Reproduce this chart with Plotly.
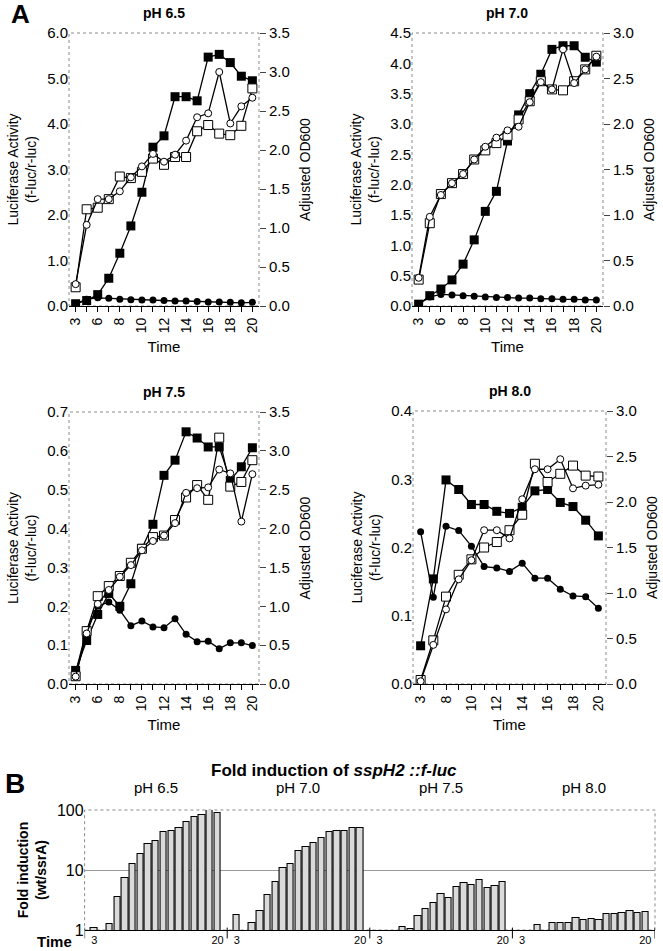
import plotly.graph_objects as go

W, H = 663, 951
FONT = "Liberation Sans, Arial, sans-serif"

# sampling times (h)
times = [3, 5, 6, 7, 8, 9, 10, 11, 12, 13, 14, 15, 16, 17, 18, 19, 20]
times_80 = [3, 6, 8, 9, 10, 11, 12, 13, 14, 15, 16, 17, 18, 19, 20]

# luciferase activity (left axis): filled squares = wt, filled circles = ssrA
luc_wt_65 = [0.05, 0.12, 0.25, 0.61, 1.16, 1.76, 2.50, 3.49, 3.74, 4.60, 4.60, 4.51, 5.47, 5.53, 5.35, 5.05, 4.95]
luc_ss_65 = [0.05, 0.15, 0.18, 0.17, 0.15, 0.14, 0.13, 0.13, 0.12, 0.11, 0.11, 0.10, 0.09, 0.09, 0.08, 0.07, 0.08]
luc_wt_70 = [0.03, 0.17, 0.28, 0.43, 0.69, 1.09, 1.56, 1.89, 2.72, 3.15, 3.50, 3.82, 4.23, 4.29, 4.29, 4.10, 4.02]
luc_ss_70 = [0.03, 0.15, 0.19, 0.18, 0.17, 0.16, 0.15, 0.14, 0.14, 0.13, 0.13, 0.12, 0.12, 0.11, 0.11, 0.10, 0.10]
luc_wt_75 = [0.035, 0.112, 0.179, 0.233, 0.200, 0.258, 0.349, 0.411, 0.537, 0.576, 0.649, 0.633, 0.610, 0.610, 0.524, 0.559, 0.608]
luc_ss_75 = [0.03, 0.14, 0.20, 0.211, 0.19, 0.15, 0.162, 0.147, 0.145, 0.168, 0.128, 0.109, 0.11, 0.091, 0.106, 0.106, 0.099]
luc_wt_80 = [0.056, 0.154, 0.299, 0.285, 0.263, 0.263, 0.253, 0.250, 0.259, 0.283, 0.285, 0.266, 0.260, 0.240, 0.217]
luc_ss_80 = [0.223, 0.127, 0.231, 0.225, 0.202, 0.172, 0.170, 0.165, 0.177, 0.155, 0.155, 0.139, 0.129, 0.128, 0.111]

# adjusted OD600 (right axis): open squares = wt, open circles = ssrA
od_wt_65 = [0.24, 1.24, 1.26, 1.37, 1.66, 1.64, 1.72, 1.89, 1.81, 1.91, 1.91, 2.24, 2.32, 2.21, 2.19, 2.31, 2.79]
od_ss_65 = [0.28, 1.04, 1.37, 1.37, 1.47, 1.65, 1.79, 1.95, 1.85, 1.94, 2.12, 2.42, 2.47, 3.00, 2.34, 2.56, 2.67]
od_wt_70 = [0.29, 0.91, 1.23, 1.35, 1.45, 1.61, 1.71, 1.79, 1.87, 2.05, 2.25, 2.47, 2.38, 2.37, 2.47, 2.60, 2.75]
od_ss_70 = [0.31, 0.98, 1.22, 1.35, 1.45, 1.61, 1.75, 1.85, 1.93, 1.97, 2.24, 2.46, 2.38, 2.82, 2.45, 2.60, 2.74]
od_wt_75 = [0.10, 0.68, 1.13, 1.26, 1.39, 1.56, 1.74, 1.89, 1.91, 2.11, 2.40, 2.56, 2.37, 3.17, 2.54, 2.60, 2.88]
od_ss_75 = [0.095, 0.65, 1.03, 1.21, 1.38, 1.53, 1.72, 1.84, 1.91, 2.07, 2.46, 2.52, 2.53, 2.76, 2.71, 2.09, 2.70]
od_wt_80 = [0.044, 0.48, 0.96, 1.20, 1.37, 1.50, 1.56, 1.69, 1.86, 2.42, 2.22, 2.31, 2.40, 2.29, 2.28]
od_ss_80 = [0.03, 0.43, 0.82, 1.15, 1.36, 1.69, 1.69, 1.60, 2.03, 2.36, 2.36, 2.47, 2.15, 2.18, 2.19]

# fold induction (wt/ssrA), one value per time point, None = not above 1
ph_labels = ["pH 6.5", "pH 7.0", "pH 7.5", "pH 8.0"]
fold_65 = [1.08, None, 1.24, 3.5, 7.5, 12.4, 18.7, 26.8, 30.4, 42.4, 45.3, 50.8, 63.9, 75.5, 81.5, 98.7, 89.2]
fold_70 = [1.77, None, 1.31, 2.10, 3.87, 6.43, 10.7, 12.8, 20.5, 23.9, 28.3, 34.4, 43.5, 45.2, 44.6, 50.8, 50.1]
fold_75 = [None, None, None, 1.12, 1.04, 1.73, 2.21, 2.87, 3.97, 3.48, 5.22, 6.1, 5.71, 6.86, 5.08, 5.36, 6.43]
fold_80 = [None, None, 1.22, None, 1.31, 1.30, 1.30, 1.56, 1.48, 1.52, 1.48, 1.84, 1.87, 1.94, 2.10, 1.92, 2.00]


def px(x):
    return x / W


def py(y):
    return 1 - y / H


fig = go.Figure()
layout = {}
shapes = []
annotations = []

panels = [
    dict(title="pH 6.5", t=times, lw=luc_wt_65, ls=luc_ss_65, ow=od_wt_65, os=od_ss_65,
         lmax=6.0, ldt=1.0, rmax=3.5, box=(69, 259, 33, 306)),
    dict(title="pH 7.0", t=times, lw=luc_wt_70, ls=luc_ss_70, ow=od_wt_70, os=od_ss_70,
         lmax=4.5, ldt=0.5, rmax=3.0, box=(412, 603, 33, 306)),
    dict(title="pH 7.5", t=times, lw=luc_wt_75, ls=luc_ss_75, ow=od_wt_75, os=od_ss_75,
         lmax=0.7, ldt=0.1, rmax=3.5, box=(69, 259, 412, 684)),
    dict(title="pH 8.0", t=times_80, lw=luc_wt_80, ls=luc_ss_80, ow=od_wt_80, os=od_ss_80,
         lmax=0.4, ldt=0.1, rmax=3.0, box=(413, 606, 411, 684)),
]

line = dict(color="black", width=1.3)
for k, p in enumerate(panels, start=1):
    xa = "x" if k == 1 else f"x{k}"
    yl = "y" if k == 1 else f"y{2 * k - 1}"
    yr = f"y{2 * k}"
    cats = [str(v) for v in p["t"]]
    fig.add_trace(go.Scatter(x=cats, y=p["lw"], xaxis=xa, yaxis=yl, mode="lines+markers", line=line,
                             marker=dict(symbol="square", size=9, color="black")))
    fig.add_trace(go.Scatter(x=cats, y=p["ls"], xaxis=xa, yaxis=yl, mode="lines+markers", line=line,
                             marker=dict(symbol="circle", size=7, color="black")))
    fig.add_trace(go.Scatter(x=cats, y=p["ow"], xaxis=xa, yaxis=yr, mode="lines+markers", line=line,
                             marker=dict(symbol="square", size=9, color="white", line=dict(color="black", width=1))))
    fig.add_trace(go.Scatter(x=cats, y=p["os"], xaxis=xa, yaxis=yr, mode="lines+markers", line=line,
                             marker=dict(symbol="circle", size=7, color="white", line=dict(color="black", width=1))))

    x0, x1, y0, y1 = p["box"]
    n = len(cats)
    layout["xaxis" if k == 1 else f"xaxis{k}"] = dict(
        domain=[px(x0), px(x1)], anchor=yl, type="category", range=[-0.6, n - 0.4], automargin=False,
        tickmode="array", tickvals=cats, ticktext=[c if i % 2 == 0 else "" for i, c in enumerate(cats)],
        tickangle=-90, ticks="outside", ticklen=5, tickcolor="black",
        showline=True, linecolor="black", linewidth=1, showgrid=False,
        tickfont=dict(size=14), title=dict(text="Time", font=dict(size=15), standoff=9))
    layout["yaxis" if k == 1 else f"yaxis{2 * k - 1}"] = dict(
        domain=[py(y1), py(y0)], anchor=xa, range=[0, p["lmax"]], dtick=p["ldt"], tickformat=".1f",
        automargin=False, showgrid=False, zeroline=False, showline=False, ticks="", tickfont=dict(size=15),
        title=dict(text="Luciferase Activity<br>(f-luc/r-luc)", font=dict(size=14), standoff=7))
    layout[f"yaxis{2 * k}"] = dict(
        overlaying=yl, side="right", anchor=xa, range=[0, p["rmax"]], dtick=0.5, tickformat=".1f",
        automargin=False, showgrid=False, zeroline=False, showline=False, ticks="outside", ticklen=6,
        tickcolor="#444", tickfont=dict(size=15),
        title=dict(text="Adjusted OD600", font=dict(size=14), standoff=11))
    shapes.append(dict(type="rect", xref=f"{xa} domain", yref=f"{yl} domain", x0=0, x1=1, y0=0, y1=1,
                       line=dict(color="#8a8a8a", width=1, dash="dot"), layer="below"))
    annotations.append(dict(text=f"<b>{p['title']}</b>", x=px((x0 + x1) / 2), y=py(y0 - 20),
                            font=dict(size=14)))

# bar chart (panel B): groups of 17 time slots
slots = len(times)
group_w = 18.5
offset = 1.25
for g, vals in enumerate([fold_65, fold_70, fold_75, fold_80]):
    xs = [g * group_w + offset + i for i in range(slots)]
    fig.add_trace(go.Bar(x=xs, y=vals, xaxis="x5", yaxis="y9", width=0.82, name=ph_labels[g],
                         marker=dict(color="#dadada", line=dict(color="black", width=1.1))))

tick_x, tick_t = [], []
for g in range(4):
    tick_x += [g * group_w + offset, g * group_w + offset + slots - 1]
    tick_t += [str(times[0]), str(times[-1])]

layout["xaxis5"] = dict(domain=[px(84.6), px(655)], anchor="y9", range=[0, 4 * group_w], automargin=False,
                        tickmode="array", tickvals=tick_x, ticktext=tick_t, ticks="",
                        tickfont=dict(size=11), showline=True, linecolor="black", showgrid=False,
                        zeroline=False)
layout["yaxis9"] = dict(domain=[py(930), py(810)], anchor="x5", type="log", range=[0, 2], automargin=False,
                        tickmode="array", tickvals=[1, 10, 100], ticktext=["1", "10", "100"],
                        showgrid=True, gridcolor="#999", gridwidth=1, zeroline=False, showline=False,
                        ticks="", tickfont=dict(size=16),
                        title=dict(text="<b>Fold induction<br>(wt/ssrA)</b>", font=dict(size=14), standoff=6))
shapes.append(dict(type="rect", xref="x5 domain", yref="y9 domain", x0=0, x1=1, y0=0, y1=1,
                   line=dict(color="#8a8a8a", width=1, dash="dot"), layer="below"))
for g in range(5):
    shapes.append(dict(type="line", xref="x5", yref="y9 domain", x0=g * group_w, x1=g * group_w,
                       y0=-0.07, y1=0.02, line=dict(color="black", width=1)))

for g, lab in enumerate(ph_labels):
    annotations.append(dict(text=lab, x=px([156, 298, 441, 584][g]), y=py(787), font=dict(size=15)))
annotations += [
    dict(text="<b>A</b>", x=px(20), y=py(14), font=dict(size=26)),
    dict(text="<b>B</b>", x=px(15), y=py(783), font=dict(size=28)),
    dict(text="<b>Fold induction of <i>sspH2 ::f-luc</i></b>", x=px(334), y=py(770), font=dict(size=17)),
    dict(text="<b>Time</b>", x=px(54), y=py(941), font=dict(size=15)),
]
for a in annotations:
    a.setdefault("xref", "paper")
    a.setdefault("yref", "paper")
    a.setdefault("showarrow", False)
    a.setdefault("xanchor", "center")
    a.setdefault("yanchor", "middle")

fig.update_layout(**layout)
fig.update_layout(width=W, height=H, margin=dict(l=0, r=0, t=0, b=0, autoexpand=False), showlegend=False,
                  paper_bgcolor="white", plot_bgcolor="white", bargap=0,
                  font=dict(family=FONT, color="black", size=14),
                  shapes=shapes, annotations=annotations)

# drop the default page margin so the figure sits at the window's corner
fig.write_html("out.html", config={"displayModeBar": False},
               post_script="document.body.style.margin='0';document.body.style.overflow='hidden';")
